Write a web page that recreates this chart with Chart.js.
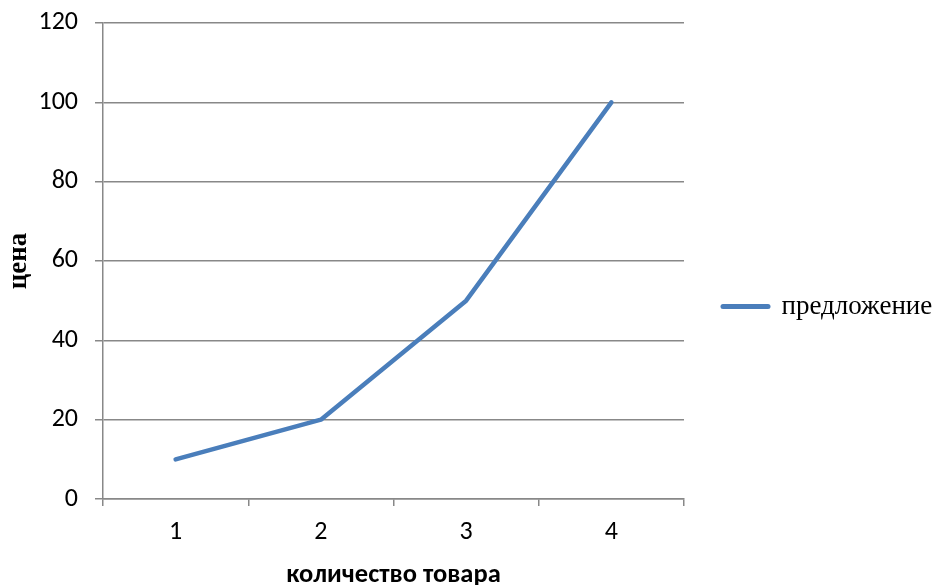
<!DOCTYPE html>
<html>
<head>
<meta charset="utf-8">
<script src="https://cdn.jsdelivr.net/npm/chart.js@4/dist/chart.umd.min.js"></script>
<style>
    html, body { margin: 0; padding: 0; background: #ffffff; }
    #wrap { width: 932px; height: 585px; position: relative; }
</style>
</head>
<body>
<div id="wrap"><canvas id="supply-chart"></canvas></div>
<script>
const quantities = ['1', '2', '3', '4'];
const supplyValues = [10, 20, 50, 100];
const priceTicks = [0, 20, 40, 60, 80, 100, 120];

const lineColor = '#4A7EBB';
const gridColor = '#888888';
const sansFont = 'Carlito, Calibri, "Open Sans", "DejaVu Sans", sans-serif';
const serifFont = '"Liberation Serif", "Times New Roman", serif';

const canvas = document.getElementById('supply-chart');

new Chart(canvas, {
    type: 'line',
    data: {
        labels: quantities,
        datasets: [
            {
                label: 'предложение',
                data: supplyValues,
                borderColor: lineColor,
                backgroundColor: lineColor,
                borderWidth: 4.5,
                borderCapStyle: 'round',
                borderJoinStyle: 'round',
                pointRadius: 0,
                tension: 0,
                fill: false,
            },
        ],
    },
    options: {
        responsive: true,
        maintainAspectRatio: false,
        animation: false,
        layout: {
            // shifted down a bit so the legend sits where the original had it
            padding: { top: 14, right: 0, bottom: -14, left: 0 },
        },
        plugins: {
            tooltip: { enabled: false },
            legend: {
                position: 'right',
                maxWidth: 248,
                labels: {
                    usePointStyle: true,
                    pointStyle: 'line',
                    pointStyleWidth: 45,
                    boxHeight: 5,
                    padding: 39,
                    color: '#000000',
                    font: { family: serifFont, size: 27 },
                    generateLabels: (chart) => chart.data.datasets.map((ds, i) => ({
                        text: ds.label,
                        strokeStyle: ds.borderColor,
                        fillStyle: ds.borderColor,
                        lineWidth: 5,
                        lineCap: 'round',
                        pointStyle: 'line',
                        datasetIndex: i,
                        hidden: false,
                    })),
                },
            },
        },
        scales: {
            x: {
                offset: true,
                afterFit: (axis) => {
                    axis.height = 100;
                },
                border: { display: true, color: gridColor, width: 1.5 },
                grid: {
                    offset: true,
                    drawOnChartArea: false,
                    drawTicks: true,
                    tickLength: 7,
                    color: gridColor,
                    lineWidth: 1.5,
                },
                ticks: {
                    color: '#000000',
                    padding: 11,
                    font: { family: sansFont, size: 26 },
                },
                title: {
                    display: true,
                    text: 'количество товара',
                    color: '#000000',
                    font: { family: sansFont, size: 26.5, weight: 'bold' },
                    padding: { top: 0, bottom: 7.5 },
                },
            },
            y: {
                min: 0,
                max: 120,
                afterBuildTicks: (axis) => {
                    axis.ticks = priceTicks.map((v) => ({ value: v }));
                },
                afterFit: (axis) => {
                    axis.width = 103;
                },
                border: { display: true, color: gridColor, width: 1.5 },
                grid: {
                    color: gridColor,
                    lineWidth: 1.5,
                    drawTicks: true,
                    tickLength: 8,
                },
                ticks: {
                    color: '#000000',
                    padding: 17,
                    font: { family: sansFont, size: 26, lineHeight: 0.4615 },
                },
                title: {
                    display: true,
                    text: 'цена',
                    color: '#000000',
                    font: { family: serifFont, size: 27, weight: 'bold' },
                    padding: { top: 3, bottom: 3 },
                },
            },
        },
    },
});
</script>
</body>
</html>
